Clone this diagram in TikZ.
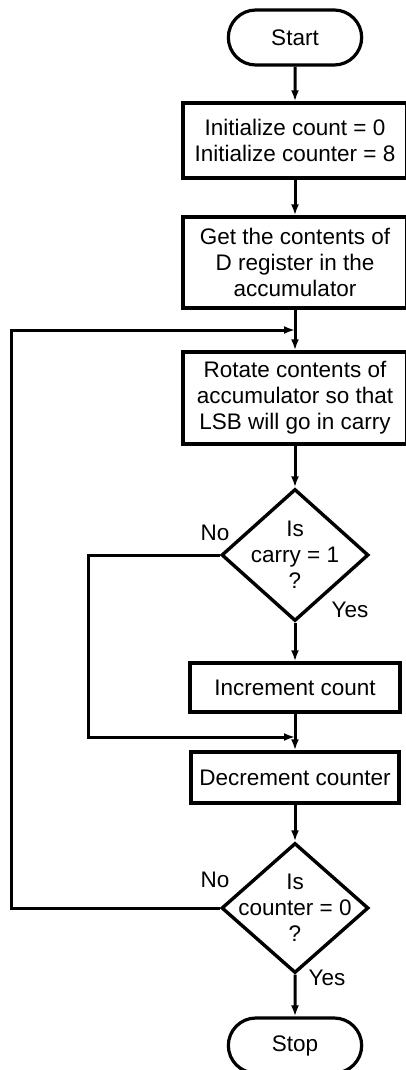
\documentclass[tikz,border=0pt]{standalone}
\usepackage{fontspec}
\setmainfont{Liberation Sans}
\usetikzlibrary{shapes.geometric,shapes.misc,arrows.meta}

\begin{document}
\begin{tikzpicture}[x=1pt, y=-1pt,
  every node/.style={font=\fontsize{22.5}{26}\selectfont},
  boite/.style={draw, line width=3.4pt, rectangle, minimum width=224pt, align=center, inner sep=0pt},
  terminal/.style={draw, line width=3.2pt, rounded rectangle, minimum width=140pt, minimum height=55pt},
  test/.style={draw, line width=3.4pt, diamond, minimum width=147pt, minimum height=132pt, inner sep=0pt},
  fleche/.style={line width=3pt, -{Latex[length=11pt,width=8pt]}},
  trait/.style={line width=3pt}]

  \useasboundingbox (0,0) rectangle (406,1070);

  % Blocs
  \node[terminal] (debut) at (295,37.5) {Start};
  \node[boite, minimum height=75pt] (init) at (295,140.5) {Initialize count = 0\\Initialize counter = 8};
  \node[boite, minimum height=91pt] (charge) at (295,262.5) {Get the contents of\\D register in the\\accumulator};
  \node[boite, minimum height=92pt] (rotation) at (295,398) {Rotate contents of\\accumulator so that\\LSB will go in carry};
  \node[test, label={[align=center]center:{Is\\carry = 1\\?}}] (carry) at (295,555) {};
  \node[boite, minimum width=210pt, minimum height=49pt] (incr) at (295,687.5) {Increment count};
  \node[boite, minimum width=208pt, minimum height=51pt] (decr) at (295,777.5) {Decrement counter};
  \node[test, minimum height=130pt, label={[align=center]center:{Is\\counter = 0\\?}}] (zero) at (295,908) {};
  \node[terminal] (fin) at (295,1045.5) {Stop};

  % Etiquettes
  \node (non1) at (215,533) {No};
  \node (oui1) at (350,610) {Yes};
  \node (non2) at (215,880) {No};
  \node (oui2) at (327,978) {Yes};

  % Jonctions
  \coordinate (j1) at (295,330);
  \coordinate (j2) at (295,737);

  % Fleches
  \draw[fleche] (debut) -- (init);
  \draw[fleche] (init) -- (charge);
  \draw[trait] (charge) -- (j1);
  \draw[fleche] (j1) -- (rotation);
  \draw[fleche] (rotation) -- (carry);
  \draw[fleche] (carry) -- (incr);
  \draw[trait] (incr) -- (j2);
  \draw[fleche] (j2) -- (decr);
  \draw[fleche] (decr) -- (zero);
  \draw[fleche] (zero) -- (fin);

  % Boucles
  \draw[fleche] (carry.west) -- ++(-131,0) |- (j2);
  \draw[fleche] (zero.west) -- ++(-208,0) |- (j1);

\end{tikzpicture}
\end{document}
